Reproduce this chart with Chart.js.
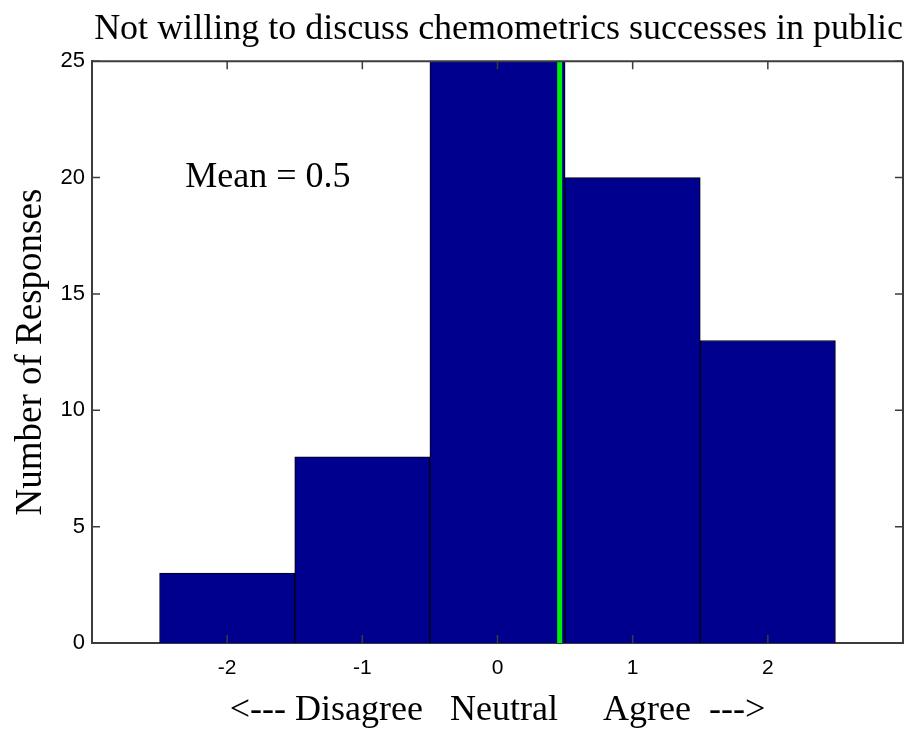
<!DOCTYPE html>
<html>
<head>
<meta charset="utf-8">
<title>Not willing to discuss chemometrics successes in public</title>
<script src="https://cdn.jsdelivr.net/npm/chart.js@4.4.1/dist/chart.umd.min.js"></script>
<style>
  body { margin: 0; background: #fff; }
</style>
</head>
<body>
<canvas id="myChart" width="905" height="732"></canvas>
<script>
// data
var categories = [-2, -1, 0, 1, 2];
var responses = [3, 8, 25, 20, 13];
var yTicks = [0, 5, 10, 15, 20, 25];
var meanValue = 0.46;
var meanLabel = 'Mean = 0.5';
var meanLabelPos = [-2.31, 20];

var titleText = 'Not willing to discuss chemometrics successes in public';
var xTitle = '<--- Disagree   Neutral     Agree  --->';
var yTitle = 'Number of Responses';

var serif = "'Liberation Serif', 'Times New Roman', serif";
var sans = "'Liberation Sans', Arial, sans-serif";
var axisColor = '#3c3c3c';

var barData = [];
for (var i = 0; i < categories.length; i++) {
  barData.push({ x: categories[i], y: responses[i] });
}

// top/right box lines, inward ticks and the mean text (matlab style)
var boxPlugin = {
  id: 'matlabBox',
  afterDatasetsDraw: function (chart) {
    var ctx = chart.ctx;
    var a = chart.chartArea;
    var xs = chart.scales.x, ys = chart.scales.y;
    ctx.save();
    ctx.strokeStyle = axisColor;
    ctx.lineWidth = 2;
    ctx.beginPath();
    ctx.moveTo(a.left, a.top); ctx.lineTo(a.right, a.top);
    ctx.moveTo(a.right, a.top); ctx.lineTo(a.right, a.bottom);
    ctx.stroke();

    ctx.lineWidth = 1.5;
    ctx.beginPath();
    categories.forEach(function (c) {
      var px = xs.getPixelForValue(c);
      ctx.moveTo(px, a.bottom); ctx.lineTo(px, a.bottom - 8);
      ctx.moveTo(px, a.top); ctx.lineTo(px, a.top + 8);
    });
    yTicks.forEach(function (t) {
      var py = ys.getPixelForValue(t);
      ctx.moveTo(a.left, py); ctx.lineTo(a.left + 8, py);
      ctx.moveTo(a.right, py); ctx.lineTo(a.right - 8, py);
    });
    ctx.stroke();

    ctx.fillStyle = '#000';
    ctx.font = '36px ' + serif;
    ctx.textAlign = 'left';
    ctx.textBaseline = 'middle';
    ctx.fillText(meanLabel, xs.getPixelForValue(meanLabelPos[0]), ys.getPixelForValue(meanLabelPos[1]));
    ctx.restore();
  }
};

var ctx = document.getElementById('myChart').getContext('2d');
var myChart = new Chart(ctx, {
  type: 'bar',
  data: {
    datasets: [{
      type: 'line',
      label: 'mean',
      data: [{ x: meanValue, y: 0 }, { x: meanValue, y: 25 }],
      borderColor: '#00ee00',
      borderWidth: 5,
      pointRadius: 0,
      order: 0
    }, {
      label: 'responses',
      data: barData,
      backgroundColor: '#00008f',
      borderColor: '#000',
      borderWidth: 1,
      barPercentage: 1,
      categoryPercentage: 1,
      order: 1
    }]
  },
  options: {
    responsive: false,
    animation: false,
    layout: { padding: { left: 0, right: 2, top: 0, bottom: 0 } },
    plugins: {
      legend: { display: false },
      tooltip: { enabled: false },
      title: {
        display: true,
        text: titleText,
        align: 'end',
        color: '#000',
        font: { family: serif, size: 36, weight: 'normal' },
        padding: { top: 8, bottom: 10 }
      }
    },
    scales: {
      x: {
        type: 'linear',
        min: -3,
        max: 3,
        offset: false,
        grid: { display: false, drawTicks: false },
        border: { display: true, color: axisColor, width: 2 },
        ticks: {
          stepSize: 1,
          padding: 13,
          color: '#000',
          font: { family: sans, size: 21 },
          callback: function (v) { return categories.indexOf(v) >= 0 ? String(v) : ''; }
        },
        title: {
          display: true,
          text: xTitle,
          color: '#000',
          font: { family: serif, size: 36 },
          padding: { top: 0, bottom: 0 }
        },
        afterFit: function (scale) {
          scale.height = 89;
          scale.paddingLeft = 0;
          scale.paddingRight = 0;
        }
      },
      y: {
        min: 0,
        max: 25,
        grid: { display: false, drawTicks: false },
        border: { display: true, color: axisColor, width: 2 },
        ticks: {
          stepSize: 5,
          padding: 7,
          color: '#000',
          font: { family: sans, size: 22 }
        },
        title: {
          display: true,
          text: yTitle,
          color: '#000',
          font: { family: serif, size: 37 },
          padding: { top: 9, bottom: 0 }
        },
        afterFit: function (scale) { scale.width = 92; }
      }
    }
  },
  plugins: [boxPlugin]
});
</script>
</body>
</html>
